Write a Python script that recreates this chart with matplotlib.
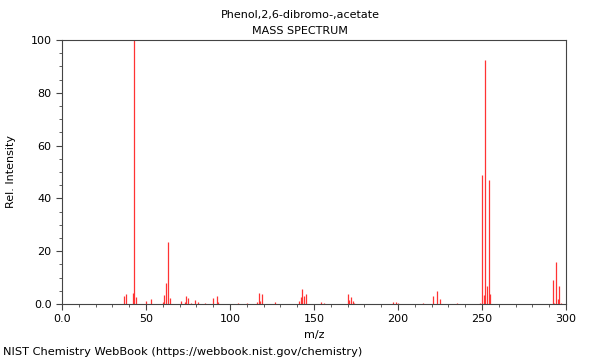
import matplotlib.pyplot as plt
from matplotlib.ticker import FuncFormatter, MultipleLocator

# Peaks (m/z, relative intensity)
mz = [37, 38, 42, 43, 44, 50, 53, 60, 61, 62, 63, 64, 71, 73, 74, 75, 77, 79,
      81, 85, 90, 92, 93, 105, 110, 116, 117, 118, 119, 127, 141, 142, 143,
      144, 145, 154, 156, 170, 171, 172, 173, 174, 197, 199, 200, 215, 221,
      223, 225, 235, 249, 250, 251, 252, 253, 254, 255, 292, 293, 294, 295,
      296, 297]
intensity = [3.0, 3.7, 4.3, 100.0, 2.7, 1.1, 1.9, 0.9, 3.4, 8.0, 23.5, 2.4,
             1.1, 0.9, 3.2, 2.1, 0.5, 1.6, 0.9, 0.3, 2.3, 3.2, 0.9, 0.3, 0.3,
             0.9, 4.3, 1.0, 3.8, 0.7, 1.1, 2.6, 5.6, 3.0, 3.9, 0.9, 0.5, 3.9,
             1.5, 2.6, 1.3, 0.3, 0.9, 0.6, 0.5, 0.3, 3.0, 4.9, 2.0, 0.3, 0.5,
             49.0, 3.4, 92.4, 7.0, 47.0, 3.6, 9.1, 0.5, 15.8, 1.8, 6.8, 0.5]

fig = plt.figure(figsize=(6, 3.6), dpi=100)
ax = fig.add_axes([0.1033, 0.1556, 0.84, 0.7333])

ax.vlines(mz, 0, intensity, color="#ff3333", linewidth=0.9)

ax.set_xlim(0, 300)
ax.set_ylim(0, 100)
ax.xaxis.set_major_locator(MultipleLocator(50))
ax.xaxis.set_minor_locator(MultipleLocator(10))
ax.yaxis.set_major_locator(MultipleLocator(20))
ax.yaxis.set_minor_locator(MultipleLocator(5))


def first_decimal(v, pos):
    return "0.0" if v == 0 else "%d" % v


ax.xaxis.set_major_formatter(FuncFormatter(first_decimal))
ax.yaxis.set_major_formatter(FuncFormatter(first_decimal))
ax.tick_params(which="both", direction="out", labelsize=8, color="#444444")
ax.tick_params(which="major", length=4)
ax.tick_params(which="minor", length=2.5)
for s in ax.spines.values():
    s.set_color("#444444")

ax.set_xlabel("m/z", fontsize=8)
ax.set_ylabel("Rel. Intensity", fontsize=8)
ax.yaxis.set_label_coords(-0.092, 0.5)

fig.text(0.5, 0.958, "Phenol,2,6-dibromo-,acetate", ha="center", va="center", fontsize=8)
fig.text(0.5, 0.915, "MASS SPECTRUM", ha="center", va="center", fontsize=8)
fig.text(0.005, 0.022, "NIST Chemistry WebBook (https://webbook.nist.gov/chemistry)",
         ha="left", va="center", fontsize=8.2)

fig.savefig("out.png", dpi=100)
